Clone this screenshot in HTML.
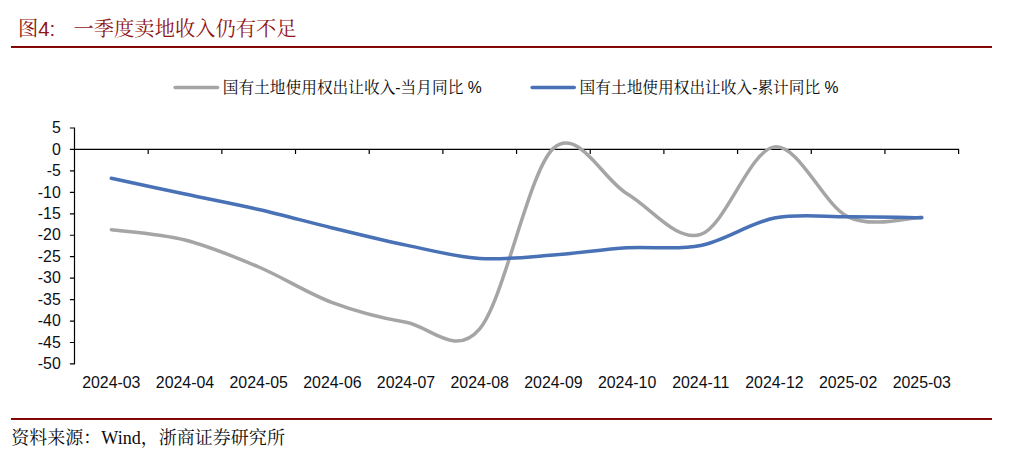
<!DOCTYPE html>
<html><head><meta charset="utf-8"><title>chart</title>
<style>
html,body{margin:0;padding:0;background:#fff;}
body{width:1018px;height:466px;overflow:hidden;font-family:"Liberation Sans",sans-serif;}
svg{display:block;}
</style></head><body>
<svg width="1018" height="466" viewBox="0 0 1018 466">
<rect width="1018" height="466" fill="#ffffff"/>
<text x="18" y="36" font-size="20.3" text-anchor="start" fill="#8f1515" font-family="'Liberation Sans','Noto Serif CJK SC',serif">图4:</text>
<text x="73.5" y="36" font-size="20.3" text-anchor="start" fill="#8f1515" font-family="'Liberation Serif','Noto Serif CJK SC',serif">一季度卖地收入仍有不足</text>
<rect x="11" y="46" width="981" height="1.95" fill="#7e0000"/>
<rect x="11" y="418" width="981" height="1.95" fill="#7e0000"/>
<text x="11.2" y="444.3" font-size="18.05" text-anchor="start" fill="#0a0a0a" font-family="'Liberation Serif','Noto Serif CJK SC',serif">资料来源：Wind，浙商证券研究所</text>
<line x1="175.1" y1="87.5" x2="217.6" y2="87.5" stroke="#a5a5a5" stroke-width="3.4" stroke-linecap="round"/>
<text x="222.8" y="92.6" font-size="15.7" text-anchor="start" fill="#0a0a0a" font-family="'Liberation Sans','Noto Serif CJK SC',serif">国有土地使用权出让收入-当月同比 %</text>
<line x1="532.1" y1="87.5" x2="574.3" y2="87.5" stroke="#4871b6" stroke-width="3.4" stroke-linecap="round"/>
<text x="579.6" y="92.6" font-size="15.7" text-anchor="start" fill="#0a0a0a" font-family="'Liberation Sans','Noto Serif CJK SC',serif">国有土地使用权出让收入-累计同比 %</text>
<path d="M74.5 127.4V364.55M69.9 128.0H74.5M69.9 149.45H74.5M69.9 170.9H74.5M69.9 192.35H74.5M69.9 213.8H74.5M69.9 235.25H74.5M69.9 256.7H74.5M69.9 278.15H74.5M69.9 299.6H74.5M69.9 321.05H74.5M69.9 342.5H74.5M69.9 363.95H74.5M69.9 149.45H959.2M148.18 149.45V154.05M221.85 149.45V154.05M295.52 149.45V154.05M369.2 149.45V154.05M442.88 149.45V154.05M516.55 149.45V154.05M590.23 149.45V154.05M663.9 149.45V154.05M737.57 149.45V154.05M811.25 149.45V154.05M884.92 149.45V154.05M958.6 149.45V154.05" stroke="#000" stroke-width="1.2" fill="none"/>
<path d="M111.34 229.67C123.62 231.39 160.45 233.75 185.01 239.97C209.57 246.19 234.13 256.56 258.69 267.00C283.25 277.43 307.80 293.38 332.36 302.60C356.92 311.83 381.48 317.98 406.04 322.34C430.60 326.70 455.15 357.77 479.71 328.77C504.27 299.78 528.83 170.90 553.39 148.38C577.95 125.86 602.50 179.30 627.06 193.64C651.62 207.97 676.18 242.19 700.74 234.39C725.30 226.60 749.85 149.81 774.41 146.88C798.97 143.94 823.53 205.08 848.09 216.80C872.65 228.53 909.48 217.16 921.76 217.23" stroke="#a5a5a5" stroke-width="3.5" fill="none" stroke-linecap="round" stroke-linejoin="round"/>
<path d="M111.34 178.19C123.62 180.84 160.45 188.85 185.01 194.07C209.57 199.29 234.13 203.86 258.69 209.51C283.25 215.16 307.80 222.02 332.36 227.96C356.92 233.89 381.48 240.04 406.04 245.12C430.60 250.19 455.15 256.77 479.71 258.42C504.27 260.06 528.83 256.77 553.39 254.98C577.95 253.20 602.50 249.26 627.06 247.69C651.62 246.12 676.18 250.48 700.74 245.55C725.30 240.61 749.85 222.88 774.41 218.09C798.97 213.30 823.53 216.87 848.09 216.80C872.65 216.73 909.48 217.52 921.76 217.66" stroke="#4871b6" stroke-width="3.5" fill="none" stroke-linecap="round" stroke-linejoin="round"/>
<g fill="#0c0f16" font-family="'Liberation Sans', sans-serif">
<text x="60.8" y="133.2" font-size="15.9" text-anchor="end">5</text>
<text x="60.8" y="154.6" font-size="15.9" text-anchor="end">0</text>
<text x="60.8" y="176.1" font-size="15.9" text-anchor="end">-5</text>
<text x="60.8" y="197.5" font-size="15.9" text-anchor="end">-10</text>
<text x="60.8" y="219.0" font-size="15.9" text-anchor="end">-15</text>
<text x="60.8" y="240.4" font-size="15.9" text-anchor="end">-20</text>
<text x="60.8" y="261.9" font-size="15.9" text-anchor="end">-25</text>
<text x="60.8" y="283.3" font-size="15.9" text-anchor="end">-30</text>
<text x="60.8" y="304.8" font-size="15.9" text-anchor="end">-35</text>
<text x="60.8" y="326.2" font-size="15.9" text-anchor="end">-40</text>
<text x="60.8" y="347.7" font-size="15.9" text-anchor="end">-45</text>
<text x="60.8" y="369.1" font-size="15.9" text-anchor="end">-50</text>
<text x="111.3" y="387.8" font-size="15.9" text-anchor="middle">2024-03</text>
<text x="185.0" y="387.8" font-size="15.9" text-anchor="middle">2024-04</text>
<text x="258.7" y="387.8" font-size="15.9" text-anchor="middle">2024-05</text>
<text x="332.4" y="387.8" font-size="15.9" text-anchor="middle">2024-06</text>
<text x="406.0" y="387.8" font-size="15.9" text-anchor="middle">2024-07</text>
<text x="479.7" y="387.8" font-size="15.9" text-anchor="middle">2024-08</text>
<text x="553.4" y="387.8" font-size="15.9" text-anchor="middle">2024-09</text>
<text x="627.1" y="387.8" font-size="15.9" text-anchor="middle">2024-10</text>
<text x="700.7" y="387.8" font-size="15.9" text-anchor="middle">2024-11</text>
<text x="774.4" y="387.8" font-size="15.9" text-anchor="middle">2024-12</text>
<text x="848.1" y="387.8" font-size="15.9" text-anchor="middle">2025-02</text>
<text x="921.8" y="387.8" font-size="15.9" text-anchor="middle">2025-03</text>
</g>
</svg>
</body></html>
